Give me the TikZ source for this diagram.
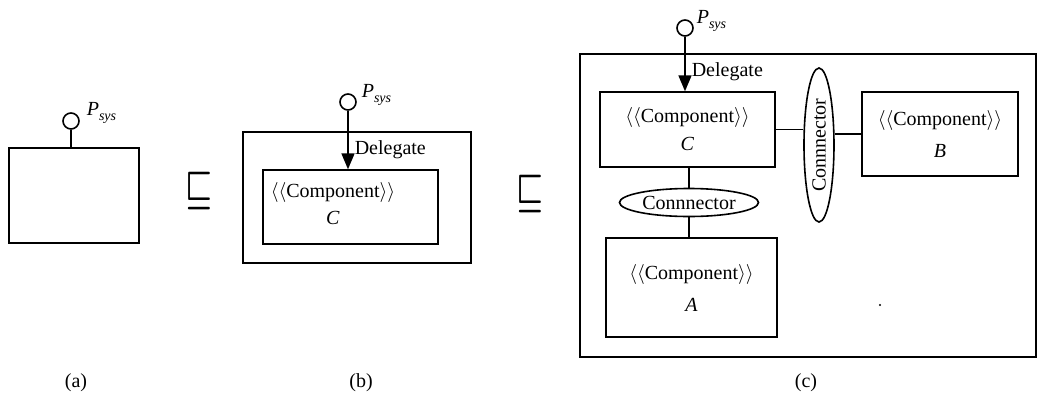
\documentclass[tikz,border=0pt]{standalone}
\usepackage{fontspec}
\setmainfont{Liberation Serif}
\usetikzlibrary{arrows,shapes.geometric}
\newcommand{\stereo}{$\langle\langle$Component$\rangle\rangle$}
\newcommand{\psys}{\textit{P}\raisebox{-0.45ex}{\scriptsize\textit{sys}}}
\newcommand{\refines}{\scalebox{1.5}[2.1]{\boldmath$\sqsubseteq$}}
\tikzset{
  compbox/.style = {draw, rectangle, align=center, inner sep=0pt,
    font=\fontsize{10}{14}\selectfont},
  port/.style = {draw, circle, inner sep=0pt, minimum size=8pt},
  conn/.style = {draw, ellipse, inner sep=0pt, font=\fontsize{10}{12}\selectfont},
  lbl/.style = {inner sep=0pt, font=\fontsize{10}{12}\selectfont},
}
\begin{document}
\begin{tikzpicture}[x=0.5pt,y=-0.5pt,->,>=triangle 45,thick]
\useasboundingbox (0,0) rectangle (1041,397);
% (a)
\node [compbox, minimum width=65pt, minimum height=47.5pt] (boxA) at (74,195.5) {};
\node [port] (portA) at (71,121) {};
\node [lbl, anchor=west] (psysA) at (86,113) {\psys};
\draw [-] (portA) -- (portA |- boxA.north);
\node [lbl] (ref1) at (199,191) {\refines};
\node [lbl] (capA) at (76,383) {(a)};
% (b)
\node [compbox, minimum width=114pt, minimum height=65.5pt] (outerB) at (357,197.5) {};
\node [compbox, minimum width=87.5pt, minimum height=37pt] (innerB) at (350.5,207) {};
\node [lbl, align=center, font=\fontsize{10}{13.5}\selectfont] (textB) at (333,203.5) {\stereo\\ \textit{C}};
\node [port] (portB) at (348,102) {};
\node [lbl, anchor=west] (psysB) at (361,95) {\psys};
\draw (portB) -- (portB |- innerB.north) node [lbl, pos=0.67, anchor=west, xshift=3pt] (delB) {Delegate};
\node [lbl] (ref2) at (530,194) {\refines};
\node [lbl] (capB) at (361,383) {(b)};
% (c)
\node [compbox, minimum width=228pt, minimum height=151.5pt] (outerC) at (808,205.5) {};
\node [port] (portC) at (685,28) {};
\node [lbl, anchor=west] (psysC) at (696,21) {\psys};
\node [compbox, minimum width=87.5pt, minimum height=37.5pt] (compC) at (687.5,129.5) {\stereo\\ \textit{C}};
\node [compbox, minimum width=85.5pt, minimum height=49.5pt] (compA) at (691.5,287.5) {\stereo\\[2pt] \textit{A}};
\node [compbox, minimum width=78pt, minimum height=42pt] (compB) at (940,134) {\stereo\\[2pt] \textit{B}};
\node [conn, minimum width=69.5pt, minimum height=14pt] (connCA) at (689,202.5) {Connnector};
\node [conn, rotate=90, minimum width=77pt, minimum height=15pt] (connCB) at (819,145) {Connnector};
\draw (portC) -- (portC |- compC.north) node [lbl, pos=0.65, anchor=west, xshift=3pt] (delC) {Delegate};
\draw [-] (connCA.north) -- (connCA.north |- compC.south);
\draw [-] (connCA.south) -- (connCA.south |- compA.north);
\draw [-] (compC.east) -- (compC.east -| connCB.north);
\draw [-] (connCB.south |- compB.west) -- (compB.west);
\fill (880,305) circle (0.6pt);
\node [lbl] (capC) at (806,383) {(c)};
\end{tikzpicture}
\end{document}
